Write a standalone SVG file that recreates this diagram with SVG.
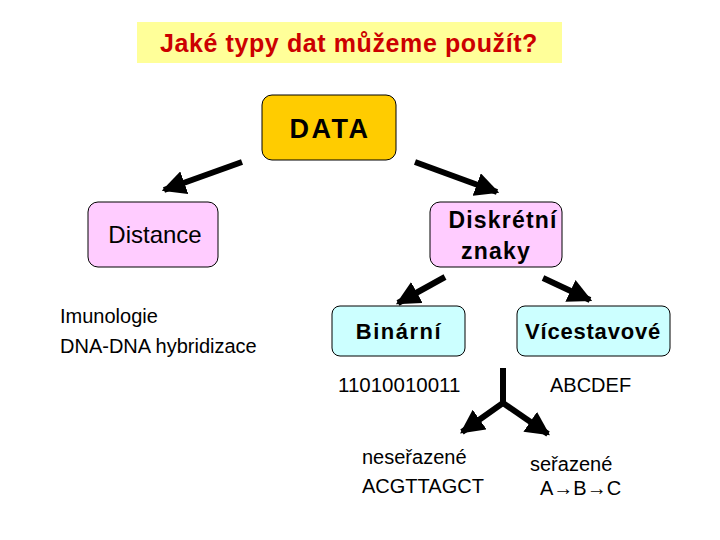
<svg xmlns="http://www.w3.org/2000/svg" width="720" height="540" viewBox="0 0 720 540">
<style>
text{font-family:"Liberation Sans",Arial,sans-serif;fill:#000}
.c{text-anchor:middle}
.ln{stroke:#000;stroke-width:6;fill:none}
.box{stroke:#000;stroke-width:1}
</style>
<defs>
<marker id="ah" viewBox="0 0 10 10" refX="9" refY="5" markerWidth="4" markerHeight="4" orient="auto" markerUnits="strokeWidth">
<path d="M0,0 L10,5 L0,10 z" fill="#000"/>
</marker>
</defs>
<rect width="720" height="540" fill="#fff"/>
<g id="title">
<rect x="137" y="22" width="425" height="41" fill="#FFFF99"/>
<text x="349" y="52" class="c" font-size="25" font-weight="bold" letter-spacing="0.6" style="fill:#CC0000">Jaké typy dat můžeme použít?</text>
</g>
<g id="data">
<rect class="box" x="262" y="95" width="134" height="65" rx="10" fill="#FFCC00"/>
<text x="330" y="138" class="c" font-size="27" font-weight="bold" letter-spacing="2.5">DATA</text>
</g>
<g id="distance">
<rect class="box" x="88" y="202" width="130" height="65" rx="10" fill="#FFCCFF"/>
<text x="155" y="243" class="c" font-size="24">Distance</text>
</g>
<g id="diskretni">
<rect class="box" x="430" y="202" width="132" height="65" rx="10" fill="#FFCCFF"/>
<text x="503" y="228" class="c" font-size="23" font-weight="bold" letter-spacing="1.2">Diskrétní</text>
<text x="496" y="259" class="c" font-size="23" font-weight="bold" letter-spacing="1.2">znaky</text>
</g>
<g id="binarni">
<rect class="box" x="332" y="306" width="133" height="50" rx="8" fill="#CCFFFF"/>
<text x="399" y="339" class="c" font-size="22" font-weight="bold" letter-spacing="1.5">Binární</text>
</g>
<g id="vicestavove">
<rect class="box" x="517" y="306" width="153" height="50" rx="8" fill="#CCFFFF"/>
<text x="593" y="339" class="c" font-size="22" font-weight="bold" letter-spacing="0.8">Vícestavové</text>
</g>
<g id="labels" font-size="20">
<text x="60" y="323">Imunologie</text>
<text x="60" y="353">DNA-DNA hybridizace</text>
<text x="338" y="392" font-size="20.5">11010010011</text>
<text x="550" y="392">ABCDEF</text>
<text x="362" y="464">neseřazené</text>
<text x="362" y="493">ACGTTAGCT</text>
<text x="530" y="471">seřazené</text>
<text x="540" y="495">A→B→C</text>
</g>
<g id="connectors">
<line class="ln" x1="242" y1="162" x2="164" y2="190" marker-end="url(#ah)"/>
<line class="ln" x1="415" y1="162" x2="497" y2="192" marker-end="url(#ah)"/>
<line class="ln" x1="445" y1="277" x2="398" y2="303" marker-end="url(#ah)"/>
<line class="ln" x1="543" y1="278" x2="590" y2="300" marker-end="url(#ah)"/>
<polyline class="ln" points="503,368 503,403 462,432" marker-end="url(#ah)"/>
<line class="ln" x1="503" y1="403" x2="548" y2="434" marker-end="url(#ah)"/>
</g>
</svg>
